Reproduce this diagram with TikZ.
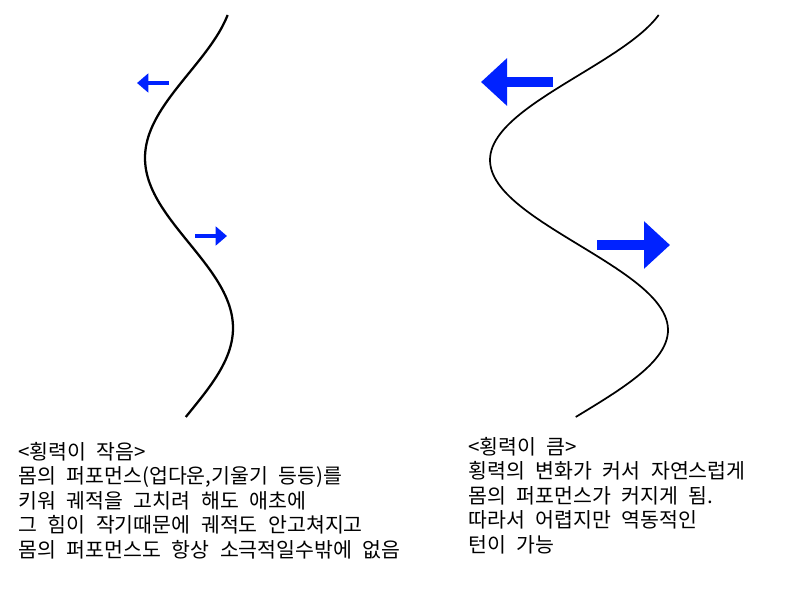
\documentclass[tikz,border=0pt]{standalone}
\usepackage{fontspec}
\newfontfamily\kor[WordSpace=2.3]{Noto Sans CJK KR}
\usetikzlibrary{arrows.meta}
\definecolor{forceblue}{RGB}{0,34,255}

\begin{document}
\begin{tikzpicture}[x=0.75pt,y=-0.75pt]
  \useasboundingbox (0,0) rectangle (800,607); % 그림 전체의 여백
  \draw[line width=1.7pt,domain=15:417,samples=120,smooth,variable=\t]
    plot ({189-44*cos(1.0588*(\t-158))},{\t}); % 횡력이 작을 때의 궤적（진폭이 작음）
  \draw[line width=1.3pt,domain=15:417,samples=120,smooth,variable=\t]
    plot ({579-89*cos(1.0588*(\t-160))},{\t}); % 횡력이 클 때의 궤적（진폭이 큼）
  \draw[forceblue,line width=3pt,-{Triangle[length=8.5pt,width=14pt]}] (169,83) -- (137,83); % 작은 횡력（왼쪽）
  \draw[forceblue,line width=3pt,-{Triangle[length=8.5pt,width=14pt]}] (195,236) -- (227,236); % 작은 횡력（오른쪽）
  \draw[forceblue,line width=6.8pt,-{Triangle[length=19.5pt,width=34.5pt]}] (553,82) -- (481,82); % 큰 횡력（왼쪽）
  \draw[forceblue,line width=6.8pt,-{Triangle[length=19.5pt,width=34.5pt]}] (597,245) -- (670,245); % 큰 횡력（오른쪽）
  \node[anchor=north west,inner sep=0pt,align=left,font=\kor\fontsize{15.4pt}{18.3pt}\selectfont]
    (small) at (18,442) {<횡력이 작음>\\몸의 퍼포먼스(업다운,기울기 등등)를\\키워 궤적을 고치려 해도 애초에\\그 힘이 작기때문에 궤적도 안고쳐지고\\몸의 퍼포먼스도 항상 소극적일수밖에 없음}; % 왼쪽 설명
  \node[anchor=north west,inner sep=0pt,align=left,font=\kor\fontsize{15.4pt}{18.3pt}\selectfont]
    (large) at (468,437) {<횡력이 큼>\\횡력의 변화가 커서 자연스럽게\\몸의 퍼포먼스가 커지게 됨.\\따라서 어렵지만 역동적인\\턴이 가능}; % 오른쪽 설명
\end{tikzpicture}
\end{document}
